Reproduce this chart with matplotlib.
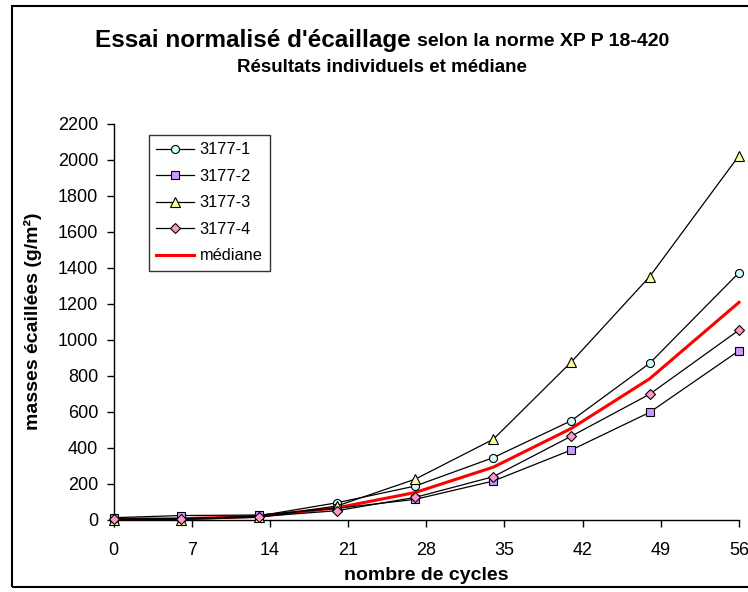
import matplotlib
matplotlib.use("Agg")
import matplotlib.pyplot as plt
from matplotlib.patches import Rectangle

plt.rcParams['font.family'] = ['Liberation Sans', 'DejaVu Sans']

cycles = [0, 6, 13, 20, 27, 34, 41, 48, 56]
s1 = [0, 3, 20, 93, 186, 344, 550, 869, 1373]
s2 = [10, 22, 25, 62, 112, 214, 387, 596, 939]
s3 = [0, 0, 12, 75, 224, 446, 877, 1351, 2024]
s4 = [3, 5, 16, 49, 123, 238, 464, 697, 1054]
mediane = [2, 4, 18, 65, 150, 291, 507, 783, 1208]
labels = ["3177-1", "3177-2", "3177-3", "3177-4", "médiane"]
xticks = [0, 7, 14, 21, 28, 35, 42, 49, 56]
yticks = list(range(0, 2201, 200))

W, H = 748, 592
fig = plt.figure(figsize=(W / 100, H / 100), dpi=100)
ax = fig.add_axes([113.5 / W, 1 - 519.5 / H, (739 - 113.5) / W, (519.5 - 124) / H])

ax.plot(cycles, mediane, color='#FF0000', lw=2.2, zorder=2, clip_on=False, label=labels[4])
styles = [
    (s1, 'o', '#CCFFFF', 5.8),
    (s2, 's', '#CC99FF', 5.8),
    (s3, '^', '#FFFF99', 7.0),
    (s4, 'D', '#FF99CC', 5.3),
]
handles = []
for (vals, m, fc, ms), lab in zip(styles, labels[:4]):
    h, = ax.plot(cycles, vals, color='black', lw=0.9, marker=m, markerfacecolor=fc,
                 markeredgecolor='black', markeredgewidth=0.8, markersize=ms,
                 zorder=3, clip_on=False, label=lab)
    handles.append(h)
handles.append(ax.lines[0])

ax.set_xlim(0, 56)
ax.set_ylim(0, 2200)
ax.set_xticks(xticks)
ax.set_yticks(yticks)
for sp in ['top', 'right']:
    ax.spines[sp].set_visible(False)
for sp in ['left', 'bottom']:
    ax.spines[sp].set_linewidth(1.0)
ax.tick_params(axis='both', direction='out', length=5, width=1, labelsize=13)
ax.tick_params(axis='x', pad=11)
ax.tick_params(axis='y', pad=6)

ax.set_xlabel("nombre de cycles", fontsize=14, fontweight='bold')
ax.set_ylabel("masses écaillées (g/m²)", fontsize=14, fontweight='bold')
ax.xaxis.label.set_va('center')
ax.yaxis.label.set_va('center')
ax.xaxis.set_label_coords((426 - 113.5) / (739 - 113.5), (519.5 - 575) / 395.5)
ax.yaxis.set_label_coords((33 - 113.5) / (739 - 113.5), 0.5)

leg = ax.legend(handles=handles, loc='upper left',
                bbox_to_anchor=(149 / W, 1 - 135 / H), bbox_transform=fig.transFigure,
                fontsize=11.8, frameon=True, fancybox=False, edgecolor='black',
                borderaxespad=0, handlelength=2.3, handletextpad=0.35,
                labelspacing=0.7, borderpad=0.45, numpoints=1)
leg.get_frame().set_linewidth(1.0)

# Title (two sizes on the first line)
t1 = fig.text(0, 1 - 40 / H, "Essai normalisé d'écaillage", fontsize=17.5,
              fontweight='bold', va='center', ha='left')
t2 = fig.text(0, 1 - 40 / H, "selon la norme XP P 18-420", fontsize=14,
              fontweight='bold', va='center', ha='left')
fig.canvas.draw()
r = fig.canvas.get_renderer()
w1 = t1.get_window_extent(r).width
w2 = t2.get_window_extent(r).width
gap = 6
total = w1 + gap + w2
x0 = 382 - total / 2
t1.set_x(x0 / W)
t2.set_x((x0 + w1 + gap) / W)
t2.set_y(1 - 41.5 / H)
fig.text(382 / W, 1 - 67 / H, "Résultats individuels et médiane", fontsize=13.5,
         fontweight='bold', va='center', ha='center')

fig.patches.append(Rectangle((12 / W, 1 - 587 / H), 1.0, (587 - 6) / H,
                             transform=fig.transFigure, fill=False,
                             edgecolor='black', lw=1.5, clip_on=False))

fig.savefig("out.png", dpi=100)
